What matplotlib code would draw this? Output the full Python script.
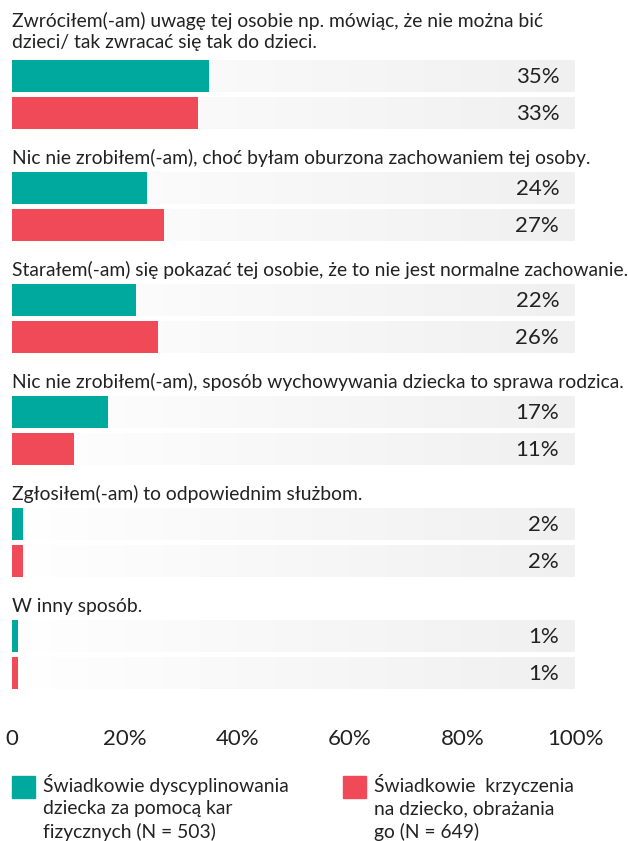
import numpy as np
import matplotlib
matplotlib.use("Agg")
from matplotlib import pyplot as plt
from matplotlib.patches import Rectangle

plt.rcParams['font.family'] = ['Lato', 'DejaVu Sans']

labels = [
    "Zwróciłem(-am) uwagę tej osobie np. mówiąc, że nie można bić\ndzieci/ tak zwracać się tak do dzieci.",
    "Nic nie zrobiłem(-am), choć byłam oburzona zachowaniem tej osoby.",
    "Starałem(-am) się pokazać tej osobie, że to nie jest normalne zachowanie.",
    "Nic nie zrobiłem(-am), sposób wychowywania dziecka to sprawa rodzica.",
    "Zgłosiłem(-am) to odpowiednim służbom.",
    "W inny sposób.",
]
dyscyplina = [35, 24, 22, 17, 2, 1]
krzyk = [33, 27, 26, 11, 2, 1]
ticks = [0, 20, 40, 60, 80, 100]
tick_labels = ["0", "20%", "40%", "60%", "80%", "100%"]
legend_labels = [
    "Świadkowie dyscyplinowania\ndziecka za pomocą kar\nfizycznych (N = 503)",
    "Świadkowie  krzyczenia\nna dziecko, obrażania\ngo (N = 649)",
]

TEAL = "#00a99d"
RED = "#f04a58"
TXT = "#222222"

W, H = 628, 841
fig = plt.figure(figsize=(W / 100, H / 100), dpi=100)
# axes in pixel-ish units: y runs 0..700 from top
ax = fig.add_axes([12 / W, (H - 700) / H, 563 / W, 700 / H])
ax.set_xlim(0, 100)
ax.set_ylim(700, 0)

grad = np.linspace(0, 1, 256).reshape(1, -1)
cmap = matplotlib.colors.LinearSegmentedColormap.from_list("track", ["#ffffff", "#f0f0f0"])

step, bh, gap, top = 112, 32, 5, 60
for i, lab in enumerate(labels):
    y0 = top + step * i
    for j, (vals, col) in enumerate([(dyscyplina, TEAL), (krzyk, RED)]):
        yb = y0 + j * (bh + gap)
        ax.imshow(grad, extent=(0, 100, yb + bh, yb), aspect="auto", cmap=cmap,
                  vmin=0, vmax=1, zorder=1)
        ax.barh(yb + bh / 2, vals[i], height=bh, color=col, zorder=2)
        ax.text(97.2, yb + bh / 2 + 1, f"{vals[i]}%", ha="right", va="center",
                fontsize=16, color=TXT, zorder=3)
    ax.text(0, y0 - 5 - 4 * lab.count("\n"), lab, ha="left", va="bottom",
            fontsize=13.9, color=TXT, linespacing=1.3)

ax.set_xticks(ticks)
ax.set_xticklabels(tick_labels, fontsize=16, color=TXT)
ax.tick_params(axis="x", length=0, pad=21)
ax.set_yticks([])
for s in ax.spines.values():
    s.set_visible(False)

# legend
for k, (txt, col) in enumerate(zip(legend_labels, [TEAL, RED])):
    x0 = 12 if k == 0 else 343
    fig.patches.append(Rectangle((x0 / W, (H - 798) / H), 23 / W, 22 / H,
                                 transform=fig.transFigure, color=col))
    fig.text((x0 + 31) / W, (H - 774) / H, txt, ha="left", va="top",
             fontsize=13.85, color=TXT, linespacing=1.37)

fig.savefig("out.png", dpi=100)
